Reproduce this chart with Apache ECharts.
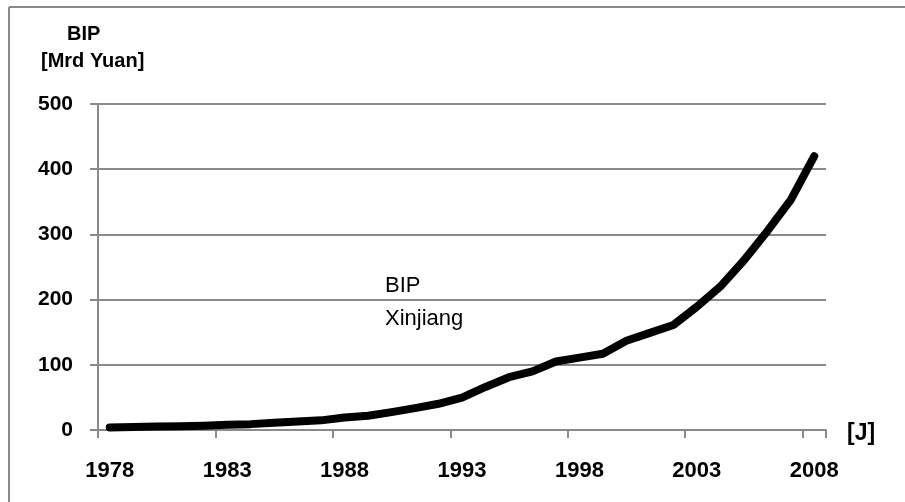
<!DOCTYPE html>
<html>
<head>
<meta charset="utf-8">
<script src="https://cdn.jsdelivr.net/npm/echarts@6/dist/echarts.min.js"></script>
<style>
  html, body { margin: 0; padding: 0; background: #fff; }
  #chart { width: 905px; height: 502px; }
</style>
</head>
<body>
<div id="chart"></div>
<script>
// Gross regional product of Xinjiang, billion yuan
const years = [
  '1978','1979','1980','1981','1982','1983','1984','1985','1986','1987',
  '1988','1989','1990','1991','1992','1993','1994','1995','1996','1997',
  '1998','1999','2000','2001','2002','2003','2004','2005','2006','2007','2008'
];
const gdpXinjiang = [
  4.0, 4.5, 5.3, 5.9, 6.6, 7.9, 9.0, 11.2, 12.9, 14.8,
  19.3, 21.8, 27.4, 33.5, 40.2, 49.5, 66.0, 81.0, 90.0, 105.0,
  111.0, 117.0, 137.0, 149.0, 161.0, 189.0, 220.0, 260.0, 305.0, 353.0, 420.0
];
const yTicks = [0, 100, 200, 300, 400, 500];

const gray = '#8a8a8a';
const chart = echarts.init(document.getElementById('chart'), null, { renderer: 'canvas' });

chart.setOption({
  backgroundColor: '#ffffff',
  animation: false,
  grid: { left: 98, right: 79, top: 104, bottom: 72, containLabel: false },
  xAxis: {
    type: 'category',
    data: years,
    boundaryGap: true,
    axisLine: { show: true, lineStyle: { color: gray, width: 2 } },
    axisTick: { show: true, interval: 4, length: 8, lineStyle: { color: gray, width: 2 } },
    axisLabel: {
      interval: 4,
      margin: 30,
      color: '#000',
      fontFamily: '"Liberation Sans", Arial, sans-serif',
      fontWeight: 'bold',
      fontSize: 22
    },
    splitLine: { show: false }
  },
  yAxis: {
    type: 'value',
    min: yTicks[0],
    max: yTicks[yTicks.length - 1],
    interval: 100,
    axisLine: { show: true, lineStyle: { color: gray, width: 2 } },
    axisTick: { show: true, length: 8, lineStyle: { color: gray, width: 2 } },
    axisLabel: {
      margin: 25,
      color: '#000',
      fontFamily: '"Liberation Sans", Arial, sans-serif',
      fontWeight: 'bold',
      fontSize: 21
    },
    splitLine: { show: true, lineStyle: { color: gray, width: 2 } }
  },
  series: [{
    type: 'line',
    data: gdpXinjiang,
    symbol: 'none',
    smooth: false,
    lineStyle: { color: '#000', width: 8, cap: 'round', join: 'round' },
    z: 5
  }],
  graphic: [
    // frame (top and left edges)
    { type: 'line', shape: { x1: 9, y1: 7, x2: 905, y2: 7 }, style: { stroke: gray, lineWidth: 2 } },
    { type: 'line', shape: { x1: 9, y1: 7, x2: 9, y2: 502 }, style: { stroke: gray, lineWidth: 2 } },
    // y-axis title
    { type: 'text', left: 67, top: 24, style: { text: 'BIP', font: 'bold 20px "Liberation Sans", Arial, sans-serif', fill: '#000' } },
    { type: 'text', left: 41, top: 51, style: { text: '[Mrd Yuan]', font: 'bold 20px "Liberation Sans", Arial, sans-serif', fill: '#000' } },
    // x-axis unit
    { type: 'text', left: 847, top: 422, style: { text: '[J]', font: 'bold 23px "Liberation Sans", Arial, sans-serif', fill: '#000' } },
    // series annotation
    { type: 'text', left: 385, top: 275, style: { text: 'BIP', font: '22px "Liberation Sans", Arial, sans-serif', fill: '#000' } },
    { type: 'text', left: 385, top: 308, style: { text: 'Xinjiang', font: '22px "Liberation Sans", Arial, sans-serif', fill: '#000' } }
  ]
});
</script>
</body>
</html>
